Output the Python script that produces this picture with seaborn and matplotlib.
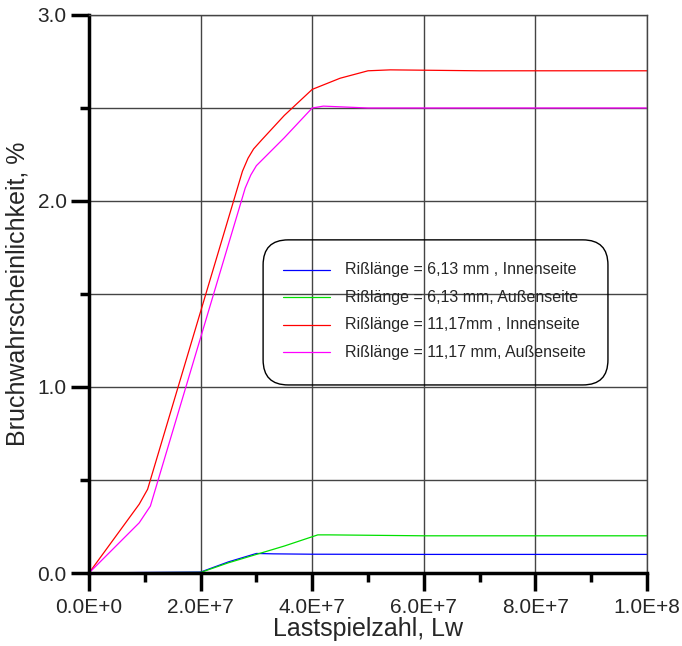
import pandas as pd
import seaborn as sns
import matplotlib.pyplot as plt
from matplotlib.ticker import MultipleLocator, FuncFormatter
from matplotlib.patches import FancyBboxPatch

sns.set_style("white")
plt.rcParams['font.family'] = ['Liberation Sans', 'DejaVu Sans']

# Curves (load cycles, probability in %)
labels = ["Rißlänge = 6,13 mm , Innenseite",
          "Rißlänge = 6,13 mm, Außenseite",
          "Rißlänge = 11,17mm , Innenseite",
          "Rißlänge = 11,17 mm, Außenseite"]
colors = ["#0000ff", "#00e000", "#ff0000", "#ff00ff"]

x_blue = [0, 1.0e7, 2.0e7, 2.5e7, 3.0e7, 3.3e7, 4.0e7, 6.0e7, 1.0e8]
y_blue = [0.0, 0.003, 0.005, 0.06, 0.105, 0.103, 0.101, 0.1, 0.1]
x_green = [0, 1.0e7, 2.0e7, 2.5e7, 3.0e7, 3.5e7, 4.1e7, 4.3e7, 6.0e7, 1.0e8]
y_green = [0.0, 0.002, 0.003, 0.055, 0.1, 0.145, 0.205, 0.205, 0.2, 0.2]
x_red = [0, 0.9e7, 1.05e7, 2.75e7, 2.85e7, 2.95e7, 3.1e7, 3.5e7, 4.0e7,
         4.5e7, 5.0e7, 5.4e7, 7.0e7, 1.0e8]
y_red = [0.0, 0.37, 0.45, 2.16, 2.23, 2.28, 2.33, 2.46, 2.60,
         2.66, 2.70, 2.705, 2.70, 2.70]
x_mag = [0, 0.9e7, 1.1e7, 2.8e7, 2.9e7, 3.0e7, 3.2e7, 3.5e7, 4.0e7,
         4.2e7, 5.0e7, 1.0e8]
y_mag = [0.0, 0.27, 0.36, 2.07, 2.14, 2.19, 2.25, 2.34, 2.50,
         2.51, 2.50, 2.50]

series = [(x_blue, y_blue), (x_green, y_green), (x_red, y_red), (x_mag, y_mag)]
frames = []
for lab, (xs, ys) in zip(labels, series):
    frames.append(pd.DataFrame({"Lw": xs, "P": ys, "Kurve": lab}))
df = pd.concat(frames, ignore_index=True)

fig = plt.figure(figsize=(6.82, 6.46), dpi=100)
ax = fig.add_axes([0.1305, 0.113, 0.8182, 0.8638])

# grid
for gx in [2e7, 4e7, 6e7, 8e7, 1e8]:
    ax.axvline(gx, color="#444444", lw=1.0, zorder=0)
for gy in [0.5, 1.0, 1.5, 2.0, 2.5, 3.0]:
    ax.axhline(gy, color="#444444", lw=1.0, zorder=0)

sns.lineplot(data=df, x="Lw", y="P", hue="Kurve", palette=colors,
             hue_order=labels, linewidth=0.9, ax=ax, legend=False)

ax.set_xlim(0, 1e8)
ax.set_ylim(0, 3.0)
ax.xaxis.set_major_locator(MultipleLocator(2e7))
ax.xaxis.set_minor_locator(MultipleLocator(1e7))
ax.yaxis.set_major_locator(MultipleLocator(1.0))
ax.yaxis.set_minor_locator(MultipleLocator(0.5))

def xfmt(v, pos):
    if v == 0:
        return "0.0E+0"
    s = "%.1E" % v
    mant, ex = s.split("E")
    return "%sE+%d" % (mant, int(ex))

ax.xaxis.set_major_formatter(FuncFormatter(xfmt))
ax.yaxis.set_major_formatter(FuncFormatter(lambda v, p: "%.1f" % v))
ax.tick_params(axis="both", which="both", bottom=True, left=True, top=False, right=False)
ax.tick_params(axis="both", which="major", length=13, width=2.5, labelsize=15, direction="out", color="black")
ax.tick_params(axis="both", which="minor", length=6.5, width=2.5, direction="out", color="black")
ax.tick_params(axis="x", which="major", pad=5)
ax.tick_params(axis="y", which="major", pad=3)

for s in ["left", "bottom"]:
    ax.spines[s].set_linewidth(2.5)
    ax.spines[s].set_color("black")
for s in ["top", "right"]:
    ax.spines[s].set_linewidth(1.0)
    ax.spines[s].set_color("#444444")

ax.set_xlabel("Lastspielzahl, Lw", fontsize=18, labelpad=0)
ax.set_ylabel("Bruchwahrscheinlichkeit, %", fontsize=18, labelpad=6)

# legend: rounded transparent frame like the original
box = FancyBboxPatch((0.312, 0.337), 0.618, 0.260, transform=ax.transAxes,
                     boxstyle="round,pad=0,rounding_size=0.045",
                     facecolor="none", edgecolor="black", lw=1.0, zorder=3)
ax.add_patch(box)
for i, (lab, c) in enumerate(zip(labels, colors)):
    yy = 0.543 - i * 0.049
    ax.plot([0.348, 0.432], [yy, yy], color=c, lw=0.9, transform=ax.transAxes, zorder=4)
    ax.text(0.459, yy, lab, transform=ax.transAxes, fontsize=11.5, va="center", zorder=4)

fig.savefig("out.png", dpi=100)
